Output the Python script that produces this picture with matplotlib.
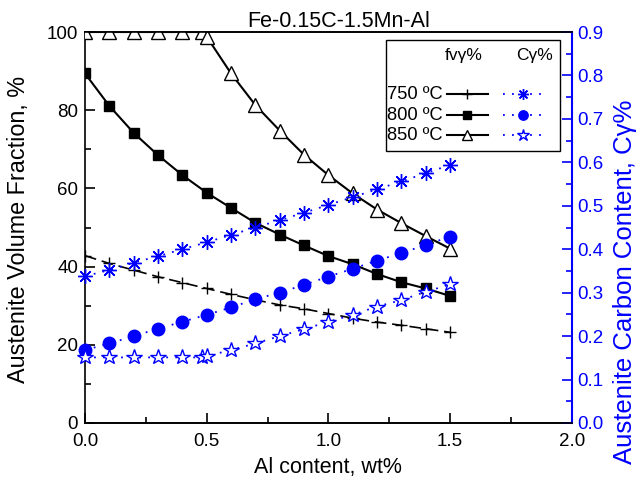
import matplotlib
matplotlib.use("Agg")
import matplotlib.pyplot as plt
from matplotlib.patches import Rectangle
from matplotlib.lines import Line2D
from matplotlib.ticker import MultipleLocator

plt.rcParams['font.family'] = ['Liberation Sans', 'DejaVu Sans']

# Data
al = [0.0, 0.1, 0.2, 0.3, 0.4, 0.5, 0.6, 0.7, 0.8, 0.9, 1.0, 1.1, 1.2, 1.3, 1.4, 1.5]
al_850 = [0.0, 0.1, 0.2, 0.3, 0.4, 0.48, 0.5, 0.6, 0.7, 0.8, 0.9, 1.0, 1.1, 1.2, 1.3, 1.4, 1.5]

fv_750 = [42.8, 40.8, 39.1, 37.4, 35.9, 34.4, 32.9, 31.5, 30.2, 29.2, 28.0, 26.8, 25.8, 25.0, 24.1, 23.2]
fv_800 = [89.4, 81.1, 74.2, 68.5, 63.4, 58.9, 55.0, 51.2, 48.2, 45.4, 42.7, 40.6, 38.1, 36.0, 34.4, 32.5]
fv_850 = [100, 100, 100, 100, 100, 100, 98.8, 89.4, 81.3, 74.8, 68.6, 63.4, 58.7, 54.6, 51.1, 47.8, 44.6]

c_750 = [0.338, 0.352, 0.369, 0.384, 0.400, 0.416, 0.433, 0.450, 0.467, 0.484, 0.502, 0.520, 0.538, 0.556, 0.575, 0.594]
c_800 = [0.168, 0.183, 0.200, 0.217, 0.233, 0.249, 0.266, 0.285, 0.300, 0.318, 0.337, 0.355, 0.374, 0.391, 0.410, 0.429]
c_850 = [0.151, 0.151, 0.151, 0.151, 0.151, 0.151, 0.154, 0.168, 0.183, 0.200, 0.216, 0.233, 0.249, 0.268, 0.283, 0.302, 0.319]

temps = ['750 ºC', '800 ºC', '850 ºC']

BLUE = '#0000ff'

fig = plt.figure(figsize=(6.41, 4.91), dpi=100)
ax = fig.add_axes([0.1326, 0.1385, 0.7594, 0.7963])
ax2 = ax.twinx()

ax.set_xlim(0, 2.0)
ax.set_ylim(0, 100)
ax2.set_ylim(0, 0.9)

# fv curves (left axis)
s750 = dict(color='black', lw=1.2, ls=(0, (7, 3.5)), marker='+', ms=9, mew=1.0)
s800 = dict(color='black', lw=1.5, ls='-', marker='s', ms=7.5, mfc='black', mec='black')
s850 = dict(color='black', lw=1.5, ls='-', marker='^', ms=9.5, mfc='white', mec='black', mew=1.0)
ax.plot(al, fv_750, zorder=3, **s750)
ax.plot(al, fv_800, zorder=3, **s800)
ax.plot(al_850, fv_850, zorder=3, **s850)

# C curves (right axis)
c750s = dict(color=BLUE, lw=1.3, ls=(0, (1, 4)), marker=(8, 2, 0), ms=10.5, mew=1.0)
c800s = dict(color=BLUE, lw=1.3, ls=(0, (1, 4)), marker='o', ms=9, mfc=BLUE, mec=BLUE)
c850s = dict(color=BLUE, lw=1.3, ls=(0, (1, 4)), marker='*', ms=11.5, mfc='white', mec=BLUE, mew=1.0)
ax2.plot(al, c_750, clip_on=False, zorder=3, **c750s)
ax2.plot(al, c_800, clip_on=False, zorder=3, **c800s)
ax2.plot(al_850, c_850, clip_on=False, zorder=3, **c850s)

# Axes styling
fs = 13.5
for a in (ax, ax2):
    for sp in a.spines.values():
        sp.set_linewidth(1.2)
ax.spines['right'].set_visible(False)
ax2.spines['left'].set_visible(False)
ax2.spines['right'].set_color(BLUE)
ax2.spines['right'].set_linewidth(1.5)

ax.xaxis.set_major_locator(MultipleLocator(0.5))
ax.xaxis.set_minor_locator(MultipleLocator(0.25))
ax.yaxis.set_major_locator(MultipleLocator(20))
ax.yaxis.set_minor_locator(MultipleLocator(10))
ax2.yaxis.set_major_locator(MultipleLocator(0.1))
ax2.yaxis.set_minor_locator(MultipleLocator(0.05))

ax.tick_params(axis='both', which='major', direction='in', length=7, width=1.2, labelsize=fs, top=False, right=False)
ax.tick_params(axis='both', which='minor', direction='in', length=4, width=1.2, top=False, right=False)
ax.tick_params(axis='x', pad=7)
ax.tick_params(axis='y', pad=5)
ax2.tick_params(axis='y', which='major', direction='in', length=7, width=1.2, labelsize=fs, colors=BLUE, pad=4)
ax2.tick_params(axis='y', which='minor', direction='in', length=4, width=1.2, colors=BLUE)

ax.set_xticks([0, 0.5, 1.0, 1.5, 2.0])
ax.set_xticklabels(['0.0', '0.5', '1.0', '1.5', '2.0'])
ax.set_yticks([0, 20, 40, 60, 80, 100])
ax2.set_yticks([0, 0.1, 0.2, 0.3, 0.4, 0.5, 0.6, 0.7, 0.8, 0.9])
ax2.set_yticklabels(['%.1f' % v for v in [0, 0.1, 0.2, 0.3, 0.4, 0.5, 0.6, 0.7, 0.8, 0.9]])

ax.set_xlabel('Al content, wt%', fontsize=15.5, labelpad=5)
ax.set_ylabel('Austenite Volume Fraction, %', fontsize=16.8)
ax2.set_ylabel('Austenite Carbon Content, C\u03b3%', fontsize=18.5, color=BLUE)
ax.yaxis.set_label_coords(-0.113, 0.495)
ax2.yaxis.set_label_coords(1.084, 0.36)
ax.set_title('Fe-0.15C-1.5Mn-Al', fontsize=15.5, pad=3, x=0.522)

# Legend (manual)
box = Rectangle((0.618, 0.696), 0.357, 0.284, transform=ax.transAxes,
                facecolor='white', edgecolor='black', lw=1.0, zorder=5)
ax2.add_patch(box)
tr = ax.transAxes
def axx(px):
    return (px - 85) / 487.0
def axy(py):
    return (423 - py) / 391.0

ax2.text(axx(464), axy(55), 'fv\u03b3%', transform=tr, ha='center', va='center', fontsize=12.5, zorder=6)
ax2.text(axx(535), axy(55), 'C\u03b3%', transform=tr, ha='center', va='center', fontsize=12.5, zorder=6)
rows_y = [94, 115, 135]
fv_styles = [s750, s800, s850]
c_styles = [c750s, c800s, c850s]
for t, yy, fst, cst in zip(temps, rows_y, fv_styles, c_styles):
    ax2.text(axx(443), axy(yy), t, transform=tr, ha='right', va='center', fontsize=13.2, zorder=6)
    ax2.add_line(Line2D([axx(447), axx(488)], [axy(yy), axy(yy)], transform=tr, zorder=6,
                        color='black', lw=1.5, ls='-'))
    ax2.add_line(Line2D([axx(467.5)], [axy(yy)], transform=tr, zorder=7, ls='none',
                        marker=fst['marker'], ms=fst['ms'] * 0.75, color='black',
                        mfc=fst.get('mfc', 'black'), mec=fst.get('mec', 'black'), mew=fst.get('mew', 1.0)))
    ax2.add_line(Line2D([axx(503), axx(543)], [axy(yy), axy(yy)], transform=tr, zorder=6,
                        color=BLUE, lw=1.3, ls=(0, (1, 4))))
    ax2.add_line(Line2D([axx(523)], [axy(yy)], transform=tr, zorder=7, ls='none',
                        marker=cst['marker'], ms=cst['ms'] * 0.75, color=BLUE,
                        mfc=cst.get('mfc', BLUE), mec=cst.get('mec', BLUE), mew=cst.get('mew', 1.0)))

fig.savefig('out.png', dpi=100)
